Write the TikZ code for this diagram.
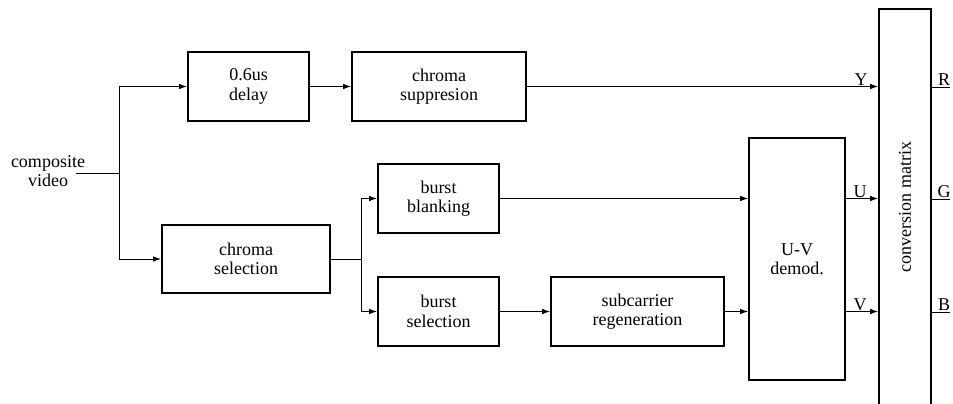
\documentclass[tikz,border=0pt]{standalone}
\usepackage{fontspec}
\setmainfont{Liberation Serif}
\newfontfamily\diagfont{Liberation Serif}
\usetikzlibrary{arrows.meta}
\tikzset{
  blk/.style={draw, line width=1.8pt, align=center, inner sep=0pt, font=\diagfont\fontsize{18}{19.5}\selectfont},
  lbl/.style={inner sep=1pt, font=\diagfont\fontsize{18}{19.5}\selectfont},
  conn/.style={line width=0.9pt, -{Latex[length=8pt,width=5.5pt]}},
  wire/.style={line width=0.9pt}
}
\begin{document}
\begin{tikzpicture}[x=1pt,y=-1pt]
\useasboundingbox (0,0) rectangle (953,404);
\fill[white] (0,0) rectangle (953,404);
% blocks
\node[blk, minimum width=121pt, minimum height=69pt] (delay) at (248.5,86.5) {0.6us\\delay};
\node[blk, minimum width=174pt, minimum height=69pt] (supp) at (439,86.5) {chroma\\suppresion};
\node[blk, minimum width=168pt, minimum height=68pt] (chsel) at (246,259) {chroma\\selection};
\node[blk, minimum width=121pt, minimum height=69pt] (blank) at (438.5,198.5) {burst\\blanking};
\node[blk, minimum width=121pt, minimum height=69pt] (bsel) at (438.5,311.5) {burst\\selection};
\node[blk, minimum width=173pt, minimum height=69pt] (subc) at (637.5,311.5) {subcarrier\\regeneration};
\node[blk, minimum width=96pt, minimum height=242pt] (demod) at (797,259) {U-V\\demod.};
\begin{scope}
\clip (0,0) rectangle (953,404);
\node[blk, minimum width=52pt, minimum height=411pt] (conv) at (905,214.5) {};
\end{scope}
\node[lbl, rotate=90] (convtxt) at (905,207) {conversion matrix};
% input
\node[lbl, align=center] (cv) at (48,171) {composite\\video};
\coordinate (in) at (76,173);
\coordinate (sp1) at (119,173);
\draw[wire] (in) -- (sp1);
\draw[conn] (sp1) |- (delay.west);
\draw[conn] (sp1) |- (chsel.west);
\draw[conn] (delay.east) -- (supp.west);
\coordinate (sp2) at (361,259);
\draw[wire] (chsel.east) -- (sp2);
\draw[conn] (sp2) |- (blank.west);
\draw[conn] (sp2) |- (bsel.west);
\draw[conn] (bsel.east) -- (subc.west);
\draw[conn] (blank.east) -- (demod.west |- blank.east);
\draw[conn] (subc.east) -- (demod.west |- subc.east);
% into conversion matrix
\draw[conn] (supp.east) -- (conv.west |- supp.east);
\draw[conn] (demod.east |- blank.east) -- (conv.west |- blank.east);
\draw[conn] (demod.east |- subc.east) -- (conv.west |- subc.east);
\node[lbl, anchor=south] (ylab) at (861,87) {Y};
\node[lbl, anchor=south] (ulab) at (860,199) {U};
\node[lbl, anchor=south] (vlab) at (860,312) {V};
% outputs
\coordinate (rout) at (950,87);
\coordinate (gout) at (950,199);
\coordinate (bout) at (950,312);
\draw[wire] (conv.east |- rout) -- (rout);
\draw[wire] (conv.east |- gout) -- (gout);
\draw[wire] (conv.east |- bout) -- (bout);
\node[lbl, anchor=south] (rlab) at (944,87) {R};
\node[lbl, anchor=south] (glab) at (944,199) {G};
\node[lbl, anchor=south] (blab) at (944,312) {B};
\end{tikzpicture}
\end{document}
